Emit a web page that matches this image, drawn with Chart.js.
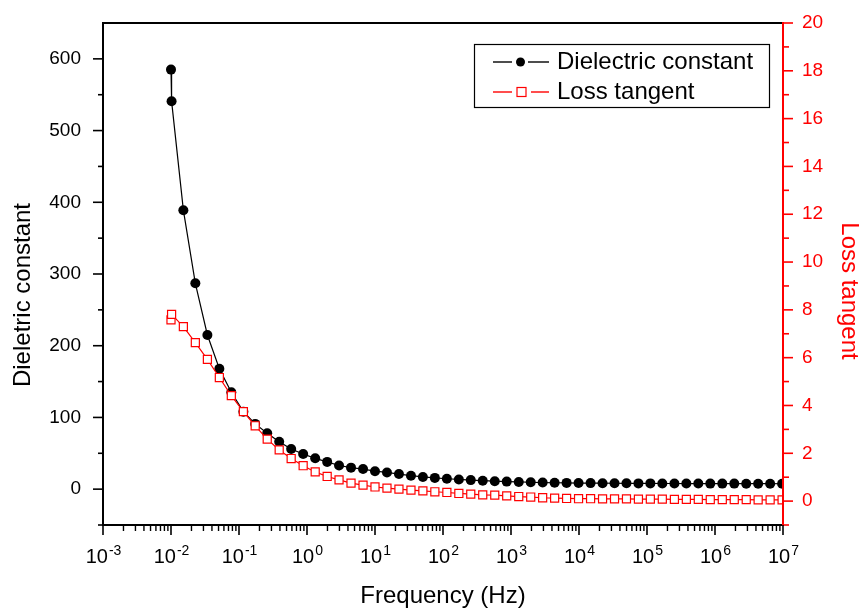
<!DOCTYPE html>
<html>
<head>
<meta charset="utf-8">
<script src="https://cdn.jsdelivr.net/npm/chart.js@4.4.1/dist/chart.umd.min.js"></script>
<style>
  html, body { margin:0; padding:0; background:#fff; }
  #wrap { width:862px; height:609px; }
</style>
</head>
<body>
<div id="wrap"><canvas id="c" width="862" height="609"></canvas></div>
<script>
/* ── data ─────────────────────────────────────── */
const freqHz = [
  0.01, 0.0102, 0.0152, 0.0228, 0.0343, 0.0514, 0.0771, 0.116, 0.173, 0.260,
  0.390, 0.585, 0.878, 1.32, 1.98, 2.96, 4.44, 6.67,
  10, 15, 22.5, 33.8, 50.6, 75.9, 114, 171, 256, 384,
  577, 865, 1300, 1950, 2920, 4380, 6570, 9850, 14800, 22200,
  33300, 49900, 74800, 112000, 168000, 253000, 379000, 568000, 852000, 1280000,
  1920000, 2880000, 4310000, 6470000, 9700000
];
const dielectric = [
  585, 541, 389, 287, 215, 168, 135, 108, 91, 78,
  66, 56, 49, 43, 38, 33, 30, 28,
  25.0, 23.3, 21.0, 18.8, 17.0, 15.7, 14.5, 13.5, 12.6, 11.8,
  11.1, 10.5, 10.0, 9.6, 9.2, 8.9, 8.7, 8.5, 8.4, 8.3,
  8.2, 8.1, 8.0, 8.0, 7.9, 7.9, 7.8, 7.8, 7.7, 7.7,
  7.7, 7.6, 7.6, 7.6, 7.5
];
const lossTangent = [
  7.58, 7.81, 7.30, 6.63, 5.93, 5.17, 4.41, 3.74, 3.15, 2.59,
  2.14, 1.78, 1.48, 1.22, 1.03, 0.89, 0.75, 0.67,
  0.59, 0.54, 0.50, 0.46, 0.43, 0.39, 0.36, 0.32, 0.29, 0.26,
  0.25, 0.22, 0.19, 0.17, 0.14, 0.125, 0.11, 0.10, 0.10, 0.09,
  0.09, 0.09, 0.08, 0.08, 0.08, 0.07, 0.07, 0.07, 0.06, 0.06,
  0.06, 0.06, 0.05, 0.05, 0.05
];

const xExponents = [-3, -2, -1, 0, 1, 2, 3, 4, 5, 6, 7];
const leftTicks  = [0, 100, 200, 300, 400, 500, 600];
const leftMinor  = [-50, 50, 150, 250, 350, 450, 550];
const rightTicks = [0, 2, 4, 6, 8, 10, 12, 14, 16, 18, 20];
const rightMinor = [-1, 1, 3, 5, 7, 9, 11, 13, 15, 17, 19];

const FONT = '"Liberation Sans", Arial, sans-serif';
const RED  = '#ff0000';

/* ── axes, ticks, titles and legend ───────────── */
function seg(ctx, x1, y1, x2, y2, color, w) {
  ctx.strokeStyle = color;
  ctx.lineWidth = w;
  ctx.beginPath();
  ctx.moveTo(x1, y1);
  ctx.lineTo(x2, y2);
  ctx.stroke();
}

const framePlugin = {
  id: 'frame',
  afterDraw(chart) {
    const { ctx, chartArea: a, scales } = chart;
    const sx = scales.x, sy = scales.y, sr = scales.y1;
    ctx.save();
    ctx.lineCap = 'butt';

    // frame
    seg(ctx, a.left, a.top, a.right, a.top, '#000', 2);
    seg(ctx, a.left, a.top - 1, a.left, a.bottom + 1, '#000', 2);
    seg(ctx, a.left - 1, a.bottom, a.right, a.bottom, '#000', 2);
    seg(ctx, a.right, a.top - 1, a.right, a.bottom + 1, RED, 2);

    // left axis
    ctx.fillStyle = '#000';
    ctx.font = `19px ${FONT}`;
    ctx.textAlign = 'right';
    ctx.textBaseline = 'middle';
    leftTicks.forEach(v => {
      const y = sy.getPixelForValue(v);
      seg(ctx, a.left - 10, y, a.left, y, '#000', 1.6);
      ctx.fillText(String(v), a.left - 22, y);
    });
    leftMinor.forEach(v => {
      const y = sy.getPixelForValue(v);
      seg(ctx, a.left - 5, y, a.left, y, '#000', 1.6);
    });

    // right axis
    ctx.fillStyle = RED;
    ctx.textAlign = 'left';
    rightTicks.forEach(v => {
      const y = sr.getPixelForValue(v);
      seg(ctx, a.right, y, a.right + 10, y, RED, 1.6);
      ctx.fillText(String(v), a.right + 19, y);
    });
    rightMinor.forEach(v => {
      const y = sr.getPixelForValue(v);
      seg(ctx, a.right, y, a.right + 6, y, RED, 1.6);
    });

    // bottom axis (log)
    ctx.fillStyle = '#000';
    xExponents.forEach((k, i) => {
      const x = sx.getPixelForValue(Math.pow(10, k));
      seg(ctx, x, a.bottom, x, a.bottom + 10, '#000', 1.6);
      if (i < xExponents.length - 1) {
        for (let m = 2; m <= 9; m++) {
          const xm = sx.getPixelForValue(m * Math.pow(10, k));
          seg(ctx, xm, a.bottom, xm, a.bottom + 6, '#000', 1.4);
        }
      }
      // 10 with superscript exponent
      ctx.textBaseline = 'alphabetic';
      ctx.textAlign = 'left';
      ctx.font = `20px ${FONT}`;
      const wBase = ctx.measureText('10').width;
      ctx.font = `14px ${FONT}`;
      const exp = String(k);
      const wExp = ctx.measureText(exp).width;
      const x0 = x - (wBase + wExp) / 2;
      ctx.font = `20px ${FONT}`;
      ctx.fillText('10', x0, 563);
      ctx.font = `14px ${FONT}`;
      ctx.fillText(exp, x0 + wBase + 1, 555);
    });

    // axis titles
    ctx.font = `24px ${FONT}`;
    ctx.textAlign = 'center';
    ctx.textBaseline = 'alphabetic';
    ctx.fillStyle = '#000';
    ctx.fillText('Frequency (Hz)', (a.left + a.right) / 2, 603);

    ctx.save();
    ctx.translate(23, 295);
    ctx.rotate(-Math.PI / 2);
    ctx.textBaseline = 'middle';
    ctx.fillText('Dieletric constant', 0, 0);
    ctx.restore();

    ctx.save();
    ctx.translate(849, 291);
    ctx.rotate(Math.PI / 2);
    ctx.textBaseline = 'middle';
    ctx.fillStyle = RED;
    ctx.fillText('Loss tangent', 0, 0);
    ctx.restore();

    // legend
    ctx.fillStyle = '#fff';
    ctx.fillRect(474, 44, 295, 63);
    ctx.strokeStyle = '#000';
    ctx.lineWidth = 1.2;
    ctx.strokeRect(474.5, 44.5, 295, 63);

    seg(ctx, 493, 62, 512, 62, '#000', 1.4);
    seg(ctx, 528, 62, 549, 62, '#000', 1.4);
    ctx.fillStyle = '#000';
    ctx.beginPath();
    ctx.arc(520.5, 62, 4.5, 0, Math.PI * 2);
    ctx.fill();

    seg(ctx, 493, 92, 512, 92, RED, 1.4);
    seg(ctx, 531, 92, 549, 92, RED, 1.4);
    ctx.strokeStyle = RED;
    ctx.lineWidth = 1.2;
    ctx.strokeRect(517, 87.5, 9, 9);

    ctx.font = `24px ${FONT}`;
    ctx.textAlign = 'left';
    ctx.textBaseline = 'middle';
    ctx.fillStyle = '#000';
    ctx.fillText('Dielectric constant', 557, 62);
    ctx.fillText('Loss tangent', 557, 92);

    ctx.restore();
  }
};

/* ── chart ─────────────────────────────────────── */
new Chart(document.getElementById('c'), {
  type: 'line',
  data: {
    datasets: [
      {
        label: 'Dielectric constant',
        data: freqHz.map((f, i) => ({ x: f, y: dielectric[i] })),
        yAxisID: 'y',
        borderColor: '#000',
        borderWidth: 1.2,
        pointStyle: 'circle',
        pointRadius: 5,
        pointBackgroundColor: '#000',
        pointBorderColor: '#000',
        pointBorderWidth: 0,
        tension: 0,
        order: 1,
      },
      {
        label: 'Loss tangent',
        data: freqHz.map((f, i) => ({ x: f, y: lossTangent[i] })),
        yAxisID: 'y1',
        borderColor: RED,
        borderWidth: 1.2,
        pointStyle: 'rect',
        pointRadius: 5.7,
        pointBackgroundColor: '#fff',
        pointBorderColor: RED,
        pointBorderWidth: 1.2,
        tension: 0,
        order: 0,
      },
    ],
  },
  options: {
    responsive: false,
    animation: false,
    devicePixelRatio: 1,
    layout: { padding: { left: 103, right: 79, top: 23, bottom: 84 } },
    scales: {
      x:  { type: 'logarithmic', display: false, min: 1e-3, max: 1e7 },
      y:  { type: 'linear', display: false, min: -50, max: 650 },
      y1: { type: 'linear', display: false, min: -1, max: 20, position: 'right' },
    },
    plugins: { legend: { display: false }, tooltip: { enabled: false } },
  },
  plugins: [framePlugin],
});
</script>
</body>
</html>
